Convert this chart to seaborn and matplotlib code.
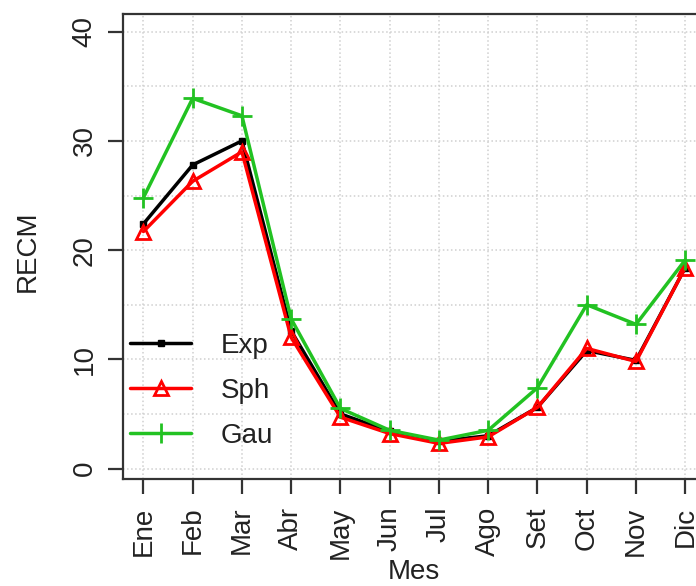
import matplotlib
matplotlib.use("Agg")
import matplotlib.pyplot as plt
from matplotlib.ticker import MultipleLocator
import pandas as pd
import seaborn as sns

# Monthly RMSE (RECM) per variogram model
months = ["Ene", "Feb", "Mar", "Abr", "May", "Jun", "Jul", "Ago", "Set", "Oct", "Nov", "Dic"]
exp_vals = [22.4, 27.8, 30.0, 12.6, 5.0, 3.4, 2.5, 3.0, 5.6, 10.8, 9.9, 18.4]
sph_vals = [21.7, 26.3, 29.0, 12.0, 4.7, 3.2, 2.3, 2.9, 5.6, 11.0, 9.8, 18.4]
gau_vals = [24.8, 33.9, 32.3, 13.7, 5.5, 3.5, 2.6, 3.5, 7.4, 15.0, 13.2, 19.1]
models = ["Exp", "Sph", "Gau"]

month_idx = list(range(1, len(months) + 1))
df = pd.DataFrame({
    "mes": month_idx * 3,
    "recm": exp_vals + sph_vals + gau_vals,
    "modelo": [m for m in models for _ in months],
})

sns.set_style("white")
plt.rcParams["font.family"] = ["Liberation Sans", "DejaVu Sans"]

fig = plt.figure(figsize=(6.96, 5.86), dpi=100)
ax = fig.add_axes([0.1763, 0.1826, 0.838, 0.7935])

styles = {
    "Exp": dict(color="black", marker="s", markersize=5, markerfacecolor="black",
                markeredgecolor="black", markeredgewidth=1),
    "Sph": dict(color="#ff0000", marker="^", markersize=10, markerfacecolor="none",
                markeredgecolor="#ff0000", markeredgewidth=2),
    "Gau": dict(color="#22c222", marker="+", markersize=14, markeredgewidth=2,
                markeredgecolor="#22c222"),
}

for m in models:
    sub = df[df["modelo"] == m]
    sns.lineplot(data=sub, x="mes", y="recm", ax=ax, label=m, linewidth=2.5,
                 **styles[m])

ax.set_xlim(0.58, 12.42)
ax.set_ylim(-0.96, 41.62)
ax.set_xticks(month_idx)
ax.set_xticklabels(months)
ax.set_yticks([0, 10, 20, 30, 40])
ax.yaxis.set_minor_locator(MultipleLocator(5))

ax.grid(True, which="both", ls=":", color="#cfcfcf", lw=1.1)
ax.set_axisbelow(True)

ax.tick_params(axis="both", which="major", direction="out", length=11, width=1.6,
               color="#333333", labelsize=20, labelcolor="#222222")
ax.tick_params(axis="y", which="minor", length=0)
ax.tick_params(axis="x", labelrotation=90, pad=9, bottom=True)
ax.tick_params(axis="y", labelrotation=90, pad=7, left=True)
for lab in ax.get_yticklabels():
    lab.set_va("center")

for s in ax.spines.values():
    s.set_color("#333333")
    s.set_linewidth(1.6)

ax.set_xlabel("Mes", fontsize=20, color="#222222", va="center")
ax.set_ylabel("RECM", fontsize=20, color="#222222", va="center")
ax.xaxis.set_label_coords(0.5, -0.2)
ax.yaxis.set_label_coords(-0.162, 0.49)

leg = ax.legend(loc="center left", bbox_to_anchor=(130 / 696, 1 - 391 / 586),
                bbox_transform=fig.transFigure, frameon=False, fontsize=20,
                handlelength=2.2, handletextpad=1.05, labelspacing=0.68,
                borderpad=0, borderaxespad=0)
for t in leg.get_texts():
    t.set_color("#222222")

fig.savefig("out.png", dpi=100)
